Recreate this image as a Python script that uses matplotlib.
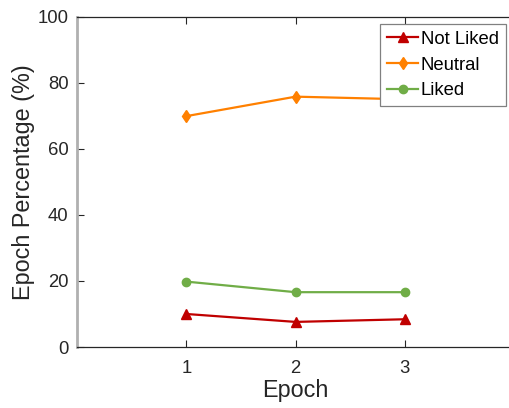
import matplotlib
matplotlib.use("Agg")
import matplotlib.pyplot as plt

epochs = [1, 2, 3]
not_liked = [10.0, 7.6, 8.4]
neutral = [69.9, 75.8, 75.0]
liked = [19.8, 16.6, 16.6]
labels = ["Not Liked", "Neutral", "Liked"]
xticks = [1, 2, 3]
yticks = [0, 20, 40, 60, 80, 100]

plt.rcParams['font.family'] = ['Liberation Sans', 'DejaVu Sans']

fig = plt.figure(figsize=(5.1, 4.08), dpi=100)
ax = fig.add_axes([0.151, 0.1495, 0.857, 0.8095])

ax.plot(epochs, not_liked, color='#C00000', marker='^', markersize=6.5, lw=1.6, label=labels[0])
ax.plot(epochs, neutral, color='#FF8000', marker='d', markersize=6, lw=1.6, label=labels[1])
ax.plot(epochs, liked, color='#70AD47', marker='o', markersize=6, lw=1.6, label=labels[2])

ax.set_xlim(0, 4)
ax.set_ylim(0, 100)
ax.set_xticks(xticks)
ax.set_yticks(yticks)
ax.tick_params(direction='in', length=5, labelsize=13.3, colors='#262626', top=True, width=0.8)
ax.tick_params(axis='x', pad=9)
ax.tick_params(axis='y', pad=6)
for s in ['top', 'bottom', 'right']:
    ax.spines[s].set_color('#262626')
    ax.spines[s].set_linewidth(0.9)
ax.spines['left'].set_color('#b0b0b0')
ax.spines['left'].set_linewidth(2)

ax.set_xlabel("Epoch", fontsize=16.8, color='#262626', labelpad=2)
ax.set_ylabel("Epoch Percentage (%)", fontsize=16.8, color='#262626', labelpad=2)

leg = ax.legend(loc='upper left', bbox_to_anchor=(0.694, 0.979), fontsize=13.3, frameon=True,
                fancybox=False, edgecolor='#808080', framealpha=1, borderpad=0.38,
                handlelength=1.65, handletextpad=0.15, labelspacing=0.48, borderaxespad=0)
leg.get_frame().set_linewidth(0.9)

fig.savefig("out.png", dpi=100)
